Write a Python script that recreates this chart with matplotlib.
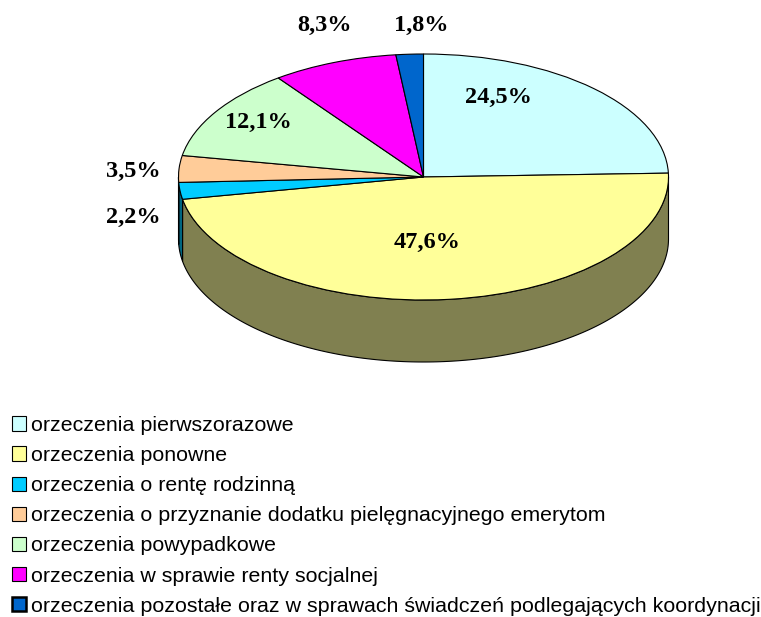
import numpy as np
import matplotlib
matplotlib.use("Agg")
import matplotlib.pyplot as plt
from matplotlib.patches import Polygon, Patch

# ---- data ----
categories = [
    "orzeczenia pierwszorazowe",
    "orzeczenia ponowne",
    "orzeczenia o rentę rodzinną",
    "orzeczenia o przyznanie dodatku pielęgnacyjnego emerytom",
    "orzeczenia powypadkowe",
    "orzeczenia w sprawie renty socjalnej",
    "orzeczenia pozostałe oraz w sprawach świadczeń podlegających koordynacji",
]
values = [24.5, 47.6, 2.2, 3.5, 12.1, 8.3, 1.8]
top_colors = ["#CCFFFF", "#FFFF99", "#00CCFF", "#FFCC99", "#CCFFCC", "#FF00FF", "#0066CC"]
side_colors = ["#668080", "#808050", "#006680", "#806650", "#668066", "#800080", "#003366"]

# ---- layout (pixel geometry of the figure) ----
W, H = 761, 617
cx_px, cy_px = 423.5, 177.0
a_px, b_px = 245.0, 123.0
depth_px = 62.0
# label centres in pixels
label_px = [(498, 97), (427, 242), (133, 217), (133, 171), (258, 122), (325, 25), (421, 25)]

fig = plt.figure(figsize=(W / 100, H / 100), dpi=100)
ax = fig.add_axes([0, 0, 1, 1])

def to_data(px, py):
    return (px - cx_px) / a_px, (cy_px - py) / b_px

d = depth_px / b_px

# side walls (front half only)
start = 90.0
bounds = []
ang = start
for v in values:
    a1 = ang - v * 3.6
    bounds.append((a1, ang))
    ang = a1

for (t1, t2), sc in zip(bounds, side_colors):
    lo, hi = t1, t2
    for shift in (0, -360, 360):
        l, h = lo + shift, hi + shift
        vl, vh = max(l, -180), min(h, 0)
        if vh > vl:
            t = np.radians(np.linspace(vl, vh, 200))
            xs = np.cos(t)
            ys = np.sin(t)
            pts = np.concatenate([np.column_stack([xs, ys]),
                                  np.column_stack([xs[::-1], ys[::-1] - d])])
            ax.add_patch(Polygon(pts, closed=True, facecolor=sc, edgecolor="black",
                                 linewidth=0.8, zorder=1))

# top of pie
wedges, _ = ax.pie(values, colors=top_colors, startangle=90, counterclock=False,
                   radius=1, center=(0, 0),
                   wedgeprops=dict(edgecolor="black", linewidth=0.8))
for w in wedges:
    w.set_zorder(2)

ax.set_aspect("auto")
xmin, xmax = to_data(0, 0)[0], to_data(W, 0)[0]
ymax, ymin = to_data(0, 0)[1], to_data(0, H)[1]
ax.set_xlim(xmin, xmax)
ax.set_ylim(ymin, ymax)
ax.axis("off")

# labels
for v, (px, py) in zip(values, label_px):
    x, y = to_data(px, py)
    ax.text(x, y, f"{v:.1f}%".replace(".", ","), ha="center", va="center",
            fontsize=17.5, fontweight="bold", family="Liberation Serif", zorder=5)

# legend
handles = [Patch(facecolor=c, edgecolor="black", linewidth=0.8) for c in top_colors]
handles[-1].set_linewidth(1.8)
leg = fig.legend(handles, categories, loc="upper left",
                 bbox_to_anchor=(12 / W, 1 - 416 / H), frameon=False,
                 prop=dict(family="Liberation Sans", size=15.4),
                 handlelength=0.65, handleheight=0.65, handletextpad=0.25,
                 labelspacing=0.52, borderpad=0, borderaxespad=0)

fig.savefig("out.png", dpi=100)
